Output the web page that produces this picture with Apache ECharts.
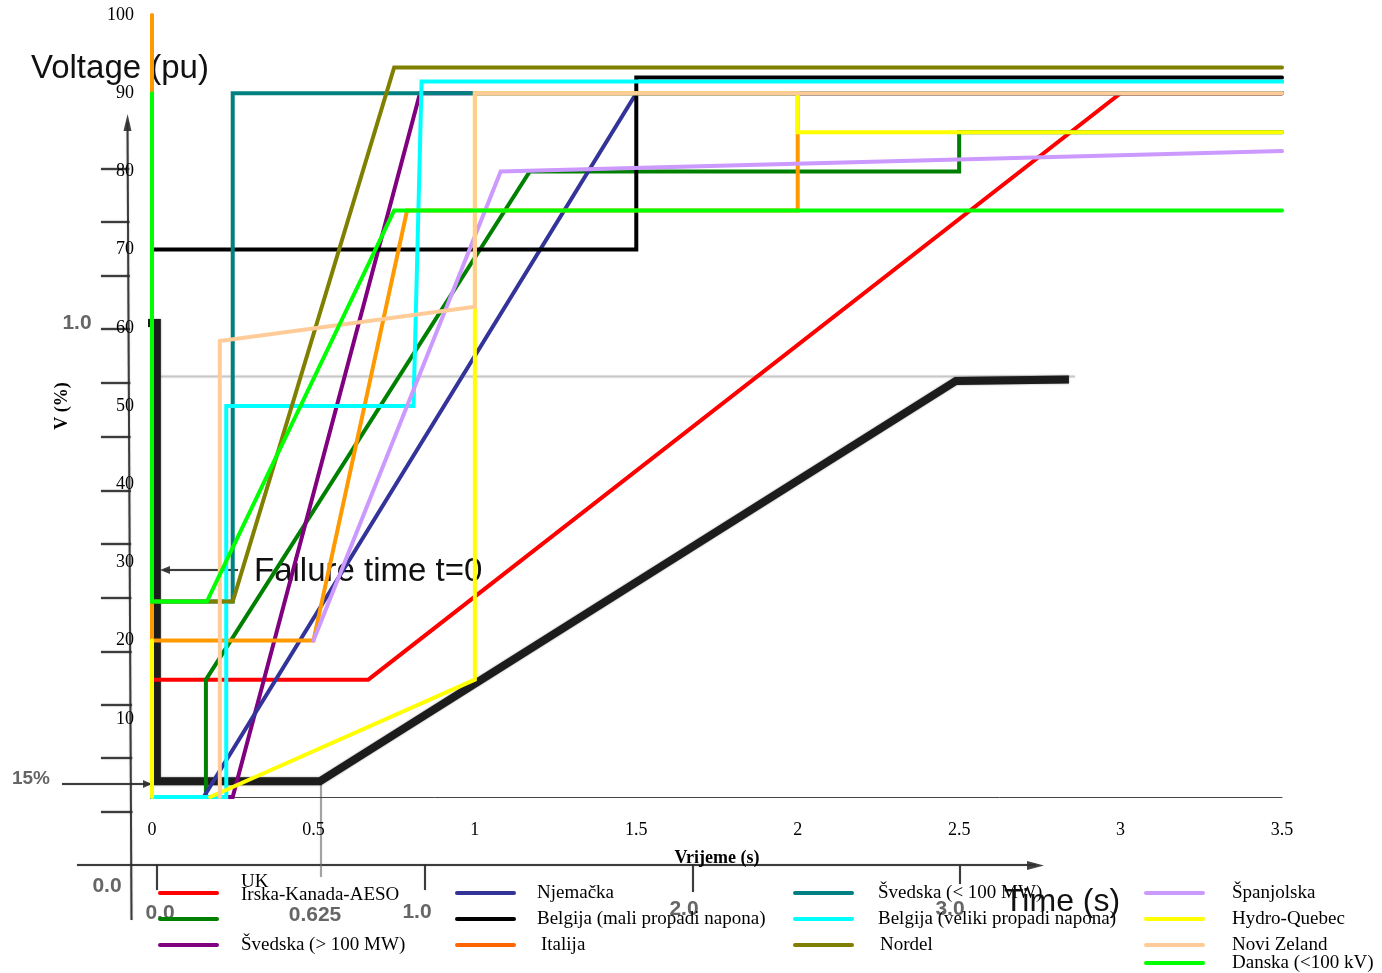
<!DOCTYPE html>
<html>
<head>
<meta charset="utf-8">
<script src="https://cdn.jsdelivr.net/npm/echarts@6/dist/echarts.min.js"></script>
<style>
  html, body { margin: 0; padding: 0; background: #ffffff; }
  #chart { width: 1382px; height: 973px; }
</style>
</head>
<body>
<div id="chart"></div>
<script>
// Fault ride-through voltage profiles: [time (s), retained voltage (%)]
const seriesNames = [
  'UK', 'Irska-Kanada-AESO', 'Švedska (> 100 MW)',
  'Njemačka', 'Belgija (mali propadi napona)', 'Italija',
  'Švedska (< 100 MW)', 'Belgija (veliki propadi napona)', 'Nordel',
  'Španjolska', 'Hydro-Quebec', 'Novi Zeland', 'Danska (<100 kV)'
];

const ukPts        = [[0, 15], [0.67, 15], [3, 90], [3.5, 90]];
const aesoPts      = [[0, 0], [0.167, 0], [0.167, 15], [1.17, 80], [2.5, 80], [2.5, 85], [3.5, 85]];
const sweHighPts   = [[0, 0], [0.25, 0], [0.83, 90], [3.5, 90]];
const germanyPts   = [[0, 0], [0.16, 0], [1.5, 90], [3.5, 90]];
const belgSmallPts = [[0, 0], [0, 70], [1.5, 70], [1.5, 92], [3.5, 92]];
const italyPts     = [[0, 100], [0, 20], [0.5, 20], [0.79, 75], [2, 75], [2, 90], [3.5, 90]];
const sweLowPts    = [[0, 25], [0.25, 25], [0.25, 90], [3.5, 90]];
const belgLargePts = [[0, 0], [0.23, 0], [0.23, 50], [0.81, 50], [0.835, 91.5], [3.52, 91.5]];
const nordelPts    = [[0, 25], [0.25, 25], [0.75, 93.3], [3.5, 93.3]];
const spainPts     = [[0.5, 20], [1.08, 80], [3.5, 82.6]];
const hydroPts     = [[0, 20], [0, 0], [0.09, null], [0.18, 0], [1, 15], [1, 90], [2, 90], [2, 85], [3.5, 85]];
const nzPts        = [[0.21, 0], [0.21, 58.3], [1, 62.7], [1, 90], [3.5, 90]];
const denmarkPts   = [[0, 90], [0, 25], [0.17, 25], [0.75, 75], [3.5, 75]];

const curves = [
  ukPts, aesoPts, sweHighPts, germanyPts, belgSmallPts, italyPts,
  sweLowPts, belgLargePts, nordelPts, spainPts, hydroPts, nzPts, denmarkPts
];

// Older per-unit profile that sits underneath the national curves
const legacyProfile = [[-0.068, 60.6], [0.015, 60.6], [0.015, 2], [0.52, 2], [2.49, 53.2], [2.84, 53.4]];

// Axis ranges
const timeMin = 0, timeMax = 3.5, timeStep = 0.5;
const voltMin = 0, voltMax = 100, voltStep = 10;

// Labels of the older time axis drawn below the chart
const legacyTimeLabels = ['0.0', '0.0', '0.625', '1.0', '2.0', '3.0'];

// ---- styles ----
const lineColors = [
  '#FF0000', '#008000', '#800080',
  '#333399', '#000000', '#FF9900',
  '#008080', '#00FFFF', '#808000',
  '#CC99FF', '#FFFF00', '#FFCC99', '#00FF00'
];
const swatchColors = lineColors.map((c, i) => (i === 5 ? '#FF6600' : c));

const serif = '"Liberation Serif", "Times New Roman", serif';
const sans = '"Liberation Sans", Arial, sans-serif';

const chart = echarts.init(document.getElementById('chart'), null, { renderer: 'canvas' });

const series = curves.map((pts, i) => ({
  type: 'line',
  name: seriesNames[i],
  data: pts,
  symbol: 'none',
  clip: false,
  silent: true,
  z: 3,
  lineStyle: { color: lineColors[i], width: 4, cap: 'round', join: 'miter' },
  itemStyle: { color: lineColors[i] }
}));

series.unshift({
  type: 'line',
  name: 'legacy',
  data: legacyProfile,
  symbol: 'none',
  clip: false,
  silent: true,
  z: 1,
  lineStyle: { color: '#1c1c1c', width: 8, join: 'miter', shadowBlur: 2, shadowColor: 'rgba(0,0,0,0.45)' }
});

// ---- legend (4 columns) ----
const legendIconX = [160, 457, 795, 1146];
const legendTextX = [241, 537, 878, 1232];
const legendRowY = [893, 919, 945, 963];
const legendSlots = [[0,0],[0,1],[0,2],[1,0],[1,1],[1,2],[2,0],[2,1],[2,2],[3,0],[3,1],[3,2],[3,3]];
const legendTextShift = { 0: [0, -11], 1: [0, -24], 5: [4, 0], 8: [2, 0] };

const graphics = [];

// older chart scaffolding (scanned-looking axes and notes)
const oldInk = 'rgba(45,45,45,0.9)';
const oldStroke = (x1, y1, x2, y2, w, col) => ({
  type: 'line', z: 0, silent: true,
  shape: { x1, y1, x2, y2 },
  style: { stroke: col || oldInk, lineWidth: w || 2, shadowBlur: 1.5, shadowColor: 'rgba(0,0,0,0.35)' }
});
const oldText = (text, x, y, size, col, weight, family) => ({
  type: 'text', z: 0, silent: true, x, y,
  style: {
    text, fontSize: size, fontFamily: family || sans, fontWeight: weight || 'bold',
    fill: col || '#666', align: 'center', verticalAlign: 'middle',
    shadowBlur: 2, shadowColor: 'rgba(90,90,90,0.6)'
  }
});

// vertical axis of the older chart
graphics.push(oldStroke(127.5, 122, 131.5, 920, 2));
graphics.push({ type: 'polygon', z: 0, silent: true, shape: { points: [[127.6, 114], [123.5, 131], [131.5, 131]] }, style: { fill: oldInk } });
[169, 222, 276, 329, 383, 437, 491, 544, 598, 652, 705, 758, 812].forEach(y => {
  graphics.push(oldStroke(101, y, 129 + (y - 120) / 200, y, 2.2));
});
graphics.push(oldStroke(62, 784, 152, 784, 2));
graphics.push({ type: 'polygon', z: 0, silent: true, shape: { points: [[152, 784], [143, 780], [143, 788]] }, style: { fill: oldInk } });
// horizontal axis of the older chart
graphics.push(oldStroke(77, 865, 1036, 865, 2.2));
graphics.push({ type: 'polygon', z: 0, silent: true, shape: { points: [[1044, 865.5], [1027, 861], [1027, 870]] }, style: { fill: oldInk } });
graphics.push(oldStroke(157, 865, 157, 890, 2));
graphics.push(oldStroke(321, 782, 321, 877, 1.4, 'rgba(120,120,120,0.8)'));
graphics.push(oldStroke(425, 865, 425, 890, 2));
graphics.push(oldStroke(693, 864, 693, 892, 2));
graphics.push(oldStroke(960, 866, 960, 884, 2));
// faint reference level
graphics.push(oldStroke(152, 376.5, 1075, 376.5, 1.6, 'rgba(200,200,200,0.9)'));
// fault-time pointer
graphics.push(oldStroke(164, 570, 238, 570, 1.8));
graphics.push({ type: 'polygon', z: 0, silent: true, shape: { points: [[160, 570], [170, 566], [170, 574]] }, style: { fill: oldInk } });

// labels of the older chart
const oldLabelPos = [[107, 886], [160, 913], [315, 915], [417, 912], [684, 909], [950, 909]];
legacyTimeLabels.forEach((t, i) => graphics.push(oldText(t, oldLabelPos[i][0], oldLabelPos[i][1], 21)));
graphics.push(oldText('1.0', 77, 323, 21));
graphics.push(oldText('15%', 31, 779, 19));

graphics.push({ type: 'text', z: 0, silent: true, x: 31, y: 69,
  style: { text: 'Voltage (pu)', fontSize: 33, fontFamily: sans, fill: '#111', align: 'left', verticalAlign: 'middle' } });
graphics.push({ type: 'text', z: 0, silent: true, x: 254, y: 572,
  style: { text: 'Failure time t=0', fontSize: 33, fontFamily: sans, fill: '#111', align: 'left', verticalAlign: 'middle' } });
graphics.push({ type: 'text', z: 5, silent: true, x: 1004, y: 902,
  style: { text: 'Time (s)', fontSize: 32, fontFamily: sans, fill: '#111', align: 'left', verticalAlign: 'middle' } });

// legend entries
seriesNames.forEach((name, i) => {
  const [col, row] = legendSlots[i];
  const y = legendRowY[row];
  const shift = legendTextShift[i] || [0, 0];
  graphics.push({
    type: 'line', z: 4, silent: true,
    shape: { x1: legendIconX[col], y1: y, x2: legendIconX[col] + 57, y2: y },
    style: { stroke: swatchColors[i], lineWidth: 4, lineCap: 'round' }
  });
  graphics.push({
    type: 'text', z: 4, silent: true,
    x: legendTextX[col] + shift[0], y: y + shift[1],
    style: { text: name, fontSize: 19, fontFamily: serif, fill: '#000', align: 'left', verticalAlign: 'middle' }
  });
});

const option = {
  animation: false,
  backgroundColor: '#ffffff',
  grid: { left: 152, right: 100, top: 15, bottom: 176, containLabel: false, outerBoundsMode: 'none' },
  xAxis: {
    type: 'value',
    min: timeMin, max: timeMax, interval: timeStep,
    name: 'Vrijeme (s)',
    nameLocation: 'middle',
    nameGap: 52,
    nameTextStyle: { fontFamily: serif, fontSize: 18, fontWeight: 'bold', color: '#000' },
    axisLine: { show: true, onZero: false, lineStyle: { color: '#444', width: 1 } },
    axisTick: { show: false },
    splitLine: { show: false },
    axisLabel: { fontFamily: serif, fontSize: 18, color: '#000', margin: 24 }
  },
  yAxis: {
    type: 'value',
    min: voltMin, max: voltMax, interval: voltStep,
    name: 'V (%)',
    nameLocation: 'middle',
    nameGap: 81,
    nameTextStyle: { fontFamily: serif, fontSize: 18, fontWeight: 'bold', color: '#000' },
    axisLine: { show: false },
    axisTick: { show: false },
    splitLine: { show: false },
    axisLabel: {
      fontFamily: serif, fontSize: 18, color: '#000', margin: 18,
      formatter: v => (v === 0 ? '' : String(v))
    }
  },
  graphic: { elements: graphics },
  series
};

chart.setOption(option);
</script>
</body>
</html>
